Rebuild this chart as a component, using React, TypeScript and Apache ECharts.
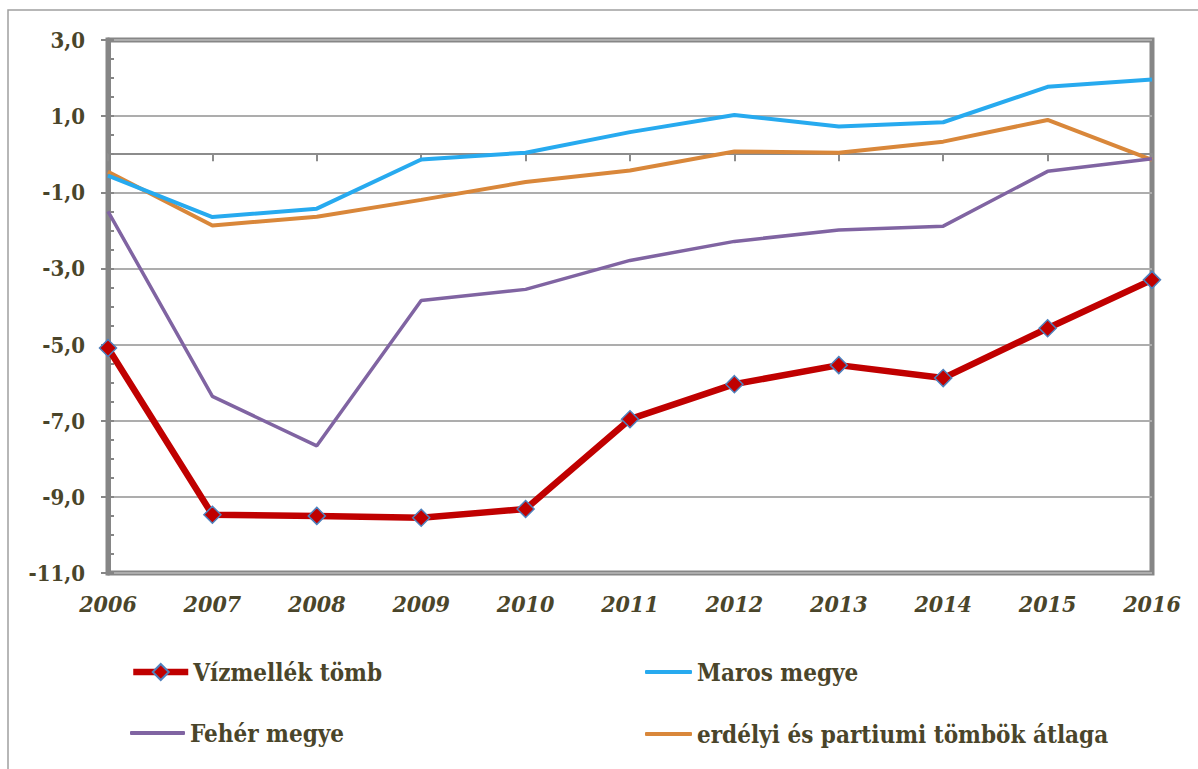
import React, { useEffect, useRef } from "react";
import * as echarts from "echarts";

const years = ["2006", "2007", "2008", "2009", "2010", "2011", "2012", "2013", "2014", "2015", "2016"];
const vizmellek = [-5.09, -9.47, -9.5, -9.55, -9.32, -6.96, -6.04, -5.54, -5.88, -4.57, -3.3];
const maros = [-0.56, -1.65, -1.43, -0.14, 0.04, 0.58, 1.03, 0.73, 0.84, 1.77, 1.96];
const feher = [-1.5, -6.36, -7.66, -3.84, -3.55, -2.79, -2.29, -1.99, -1.89, -0.45, -0.12];
const atlag = [-0.46, -1.87, -1.64, -1.2, -0.73, -0.43, 0.07, 0.04, 0.33, 0.9, -0.15];

const seriesNames = ["Vízmellék tömb", "Maros megye", "Fehér megye", "erdélyi és partiumi tömbök átlaga"];
const yMin = -11;
const yMax = 3;
const yStep = 2;

const FONT = "DejaVu Serif Condensed, DejaVu Serif";
const TEXT = "#4A452A";
const RED = "#C00000";
const BLUE = "#27AAEF";
const PURPLE = "#8064A2";
const ORANGE = "#D9873A";

export default function App() {
  const ref = useRef<HTMLDivElement>(null);
  useEffect(() => {
    if (!ref.current) return;
    const chart = echarts.init(ref.current, undefined, { renderer: "svg" });
    const legendText = { fontFamily: FONT, fontWeight: "bold", fontSize: 24, color: TEXT };
    const plainLegend = (name: string, left: number, top: number, width: number) => ({
      data: [name],
      left,
      top,
      padding: 0,
      itemWidth: width,
      itemHeight: 4,
      icon: "roundRect",
      textStyle: legendText,
      selectedMode: false,
    });
    chart.setOption({
      animation: false,
      backgroundColor: "#ffffff",
      textStyle: { fontFamily: FONT },
      graphic: [
        {
          type: "rect",
          shape: { x: 8, y: 10, width: 1400, height: 1000 },
          style: { fill: "none", stroke: "#A0A0A0", lineWidth: 1.5 },
          silent: true,
        },
      ],
      grid: {
        show: true,
        left: 108,
        right: 46,
        top: 40,
        bottom: 196,
        borderColor: "#868686",
        borderWidth: 5,
        containLabel: false,
      },
      legend: [
        {
          data: [seriesNames[0]],
          left: 130,
          top: 660,
          padding: 0,
          itemWidth: 55,
          itemHeight: 20,
          textStyle: legendText,
          lineStyle: { width: "inherit" },
          selectedMode: false,
        },
        plainLegend(seriesNames[1], 645, 660, 47),
        plainLegend(seriesNames[2], 130, 721, 55),
        plainLegend(seriesNames[3], 645, 722, 47),
      ],
      xAxis: [
        {
          type: "category",
          data: years,
          boundaryGap: false,
          position: "bottom",
          axisLine: { show: false, onZero: false },
          axisTick: { show: false },
          axisLabel: {
            margin: 19,
            fontFamily: FONT,
            fontWeight: "bold",
            fontStyle: "italic",
            fontSize: 23,
            color: TEXT,
          },
          splitLine: { show: false },
        },
        {
          type: "category",
          data: years,
          boundaryGap: false,
          position: "bottom",
          axisLine: { show: true, onZero: true, lineStyle: { color: "#8C8C8C", width: 2 } },
          axisTick: { show: true, inside: false, length: 7, lineStyle: { color: "#8C8C8C", width: 2 } },
          axisLabel: { show: false },
          splitLine: { show: false },
        },
      ],
      yAxis: [
        {
          type: "value",
          min: yMin,
          max: yMax,
          interval: yStep,
          position: "left",
          axisLine: { show: true, lineStyle: { color: "#868686", width: 5 } },
          axisTick: { show: true, inside: false, length: 7, lineStyle: { color: "#868686", width: 2 } },
          axisLabel: {
            margin: 23,
            fontFamily: FONT,
            fontWeight: "bold",
            fontSize: 22,
            color: TEXT,
            formatter: (v: number) => v.toFixed(1).replace(".", ","),
          },
          splitLine: { show: true, lineStyle: { color: "#ADADAD", width: 2 } },
        },
        {
          type: "value",
          min: yMin,
          max: yMax,
          interval: 0.5,
          position: "left",
          axisLine: { show: false },
          axisTick: { show: true, inside: true, length: 6, lineStyle: { color: "#868686", width: 2 } },
          axisLabel: { show: false },
          splitLine: { show: false },
        },
      ],
      series: [
        {
          name: seriesNames[3],
          type: "line",
          data: atlag,
          symbol: "none",
          lineStyle: { color: ORANGE, width: 4 },
          itemStyle: { color: ORANGE },
        },
        {
          name: seriesNames[1],
          type: "line",
          data: maros,
          symbol: "none",
          lineStyle: { color: BLUE, width: 4 },
          itemStyle: { color: BLUE },
        },
        {
          name: seriesNames[2],
          type: "line",
          data: feher,
          symbol: "none",
          lineStyle: { color: PURPLE, width: 3.5 },
          itemStyle: { color: PURPLE },
        },
        {
          name: seriesNames[0],
          type: "line",
          data: vizmellek,
          symbol: "diamond",
          symbolSize: 17,
          lineStyle: { color: RED, width: 6.5 },
          itemStyle: { color: RED, borderColor: "#4F81BD", borderWidth: 1.5 },
          z: 5,
        },
      ],
    });
    return () => chart.dispose();
  }, []);
  return (
    <div
      ref={ref}
      style={{ position: "fixed", left: 0, top: 0, width: 1198, height: 769, background: "#fff" }}
    />
  );
}
